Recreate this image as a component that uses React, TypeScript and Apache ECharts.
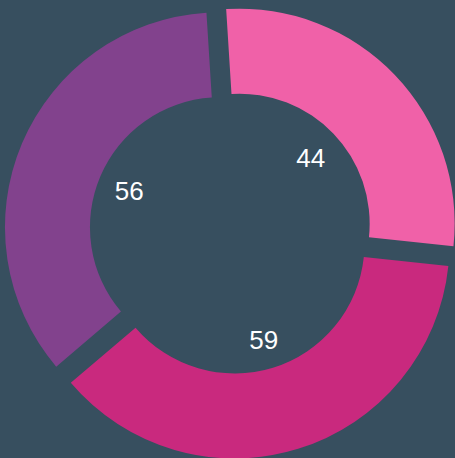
import React, { useEffect, useRef } from "react";
import * as echarts from "echarts";

const categories = ["A", "B", "C"];
const values = [44, 59, 56];
const colors = ["#f061a8", "#c9297e", "#82428d"];
const background = "#374f5f";

export default function App() {
  const ref = useRef<HTMLDivElement>(null);
  useEffect(() => {
    if (!ref.current) return;
    const chart = echarts.init(ref.current, undefined, { renderer: "svg" });
    const center = [231, 232];
    chart.setOption({
      animation: false,
      backgroundColor: background,
      series: [
        {
          type: "pie",
          center,
          radius: [130, 215],
          startAngle: 93.6,
          clockwise: true,
          selectedMode: "multiple",
          selectedOffset: 12,
          silent: true,
          label: { show: false },
          labelLine: { show: false },
          data: categories.map((c, i) => ({
            name: c,
            value: values[i],
            selected: true,
            itemStyle: { color: colors[i] },
            select: { itemStyle: { color: colors[i] } },
          })),
        },
        {
          type: "pie",
          center,
          radius: [0, 215],
          startAngle: 93.6,
          clockwise: true,
          silent: true,
          itemStyle: { color: "rgba(0,0,0,0)" },
          labelLine: { show: false },
          label: {
            show: true,
            position: "inside",
            rotate: 0,
            offset: [0, 2],
            formatter: "{c}",
            color: "#ffffff",
            fontSize: 26,
            fontFamily: "Liberation Sans, Arial, sans-serif",
          },
          data: categories.map((c, i) => ({ name: c, value: values[i] })),
        },
      ],
    });
    return () => chart.dispose();
  }, []);
  return (
    <div
      ref={ref}
      style={{ position: "fixed", left: 0, top: 0, width: 455, height: 458 }}
    />
  );
}
